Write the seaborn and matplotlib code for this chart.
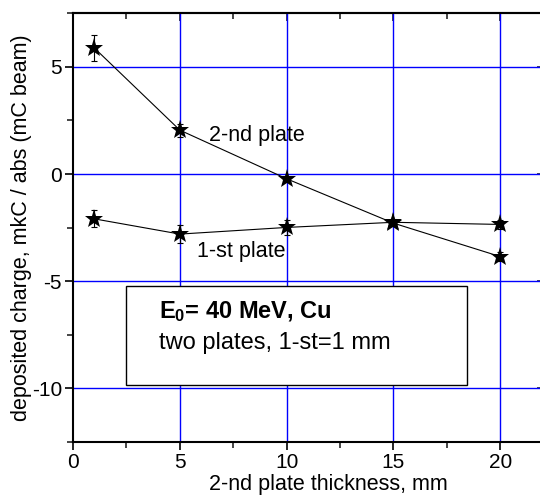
import matplotlib
matplotlib.use("Agg")
import matplotlib.pyplot as plt
import seaborn as sns
import pandas as pd
from matplotlib.ticker import MultipleLocator

thickness = [1, 5, 10, 15, 20]
plate2 = [5.88, 2.05, -0.22, -2.29, -3.85]
plate2_err = [0.6, 0.3, 0.1, 0.15, 0.2]
plate1 = [-2.09, -2.8, -2.49, -2.25, -2.35]
plate1_err = [0.4, 0.42, 0.37, 0.15, 0.2]

xticks = [0, 5, 10, 15, 20]
yticks = [-10, -5, 0, 5]

sns.set_theme(style="white")
plt.rcParams["font.family"] = ["Liberation Sans", "DejaVu Sans"]
plt.rcParams["mathtext.fontset"] = "custom"
plt.rcParams["mathtext.rm"] = "Liberation Sans"
plt.rcParams["mathtext.bf"] = "Liberation Sans:bold"
plt.rcParams["axes.unicode_minus"] = False
plt.rcParams["text.color"] = "black"
plt.rcParams["axes.labelcolor"] = "black"

fig = plt.figure(figsize=(5.4, 4.97), dpi=100)
ax = fig.add_axes([73/540, 55/497, 470/540, (442-13.3)/497])

df = pd.DataFrame({"x": thickness * 2,
                   "y": plate2 + plate1,
                   "s": ["2-nd"] * 5 + ["1-st"] * 5})

for ys, es in [(plate2, plate2_err), (plate1, plate1_err)]:
    ax.errorbar(thickness, ys, yerr=es, fmt="none", ecolor="black",
                elinewidth=0.8, capsize=2.5, capthick=0.8, zorder=3)

sns.lineplot(data=df, x="x", y="y", units="s", estimator=None, ax=ax,
             color="black", linewidth=0.8, marker="*", markersize=14,
             markeredgewidth=0, markerfacecolor="black", zorder=4)

ax.set_xlim(0, 22)
ax.set_ylim(-12.5, 7.5)
ax.set_xticks(xticks)
ax.set_yticks(yticks)
ax.xaxis.set_minor_locator(MultipleLocator(2.5))
ax.yaxis.set_minor_locator(MultipleLocator(2.5))

for v in [5, 10, 15, 20]:
    ax.axvline(v, color="#0000ff", lw=1.0, zorder=1)
for v in yticks:
    ax.axhline(v, color="#0000ff", lw=1.0, zorder=1)

ax.tick_params(axis="both", which="major", direction="out", length=6, width=1.2,
               labelsize=15, colors="black", bottom=True, left=True, pad=2)
ax.tick_params(axis="both", which="minor", direction="out", length=4, width=1.2,
               bottom=True, left=True)

top = ax.secondary_xaxis("top")
top.set_xticks(xticks)
top.xaxis.set_minor_locator(MultipleLocator(2.5))
top.tick_params(which="major", direction="in", length=6, width=1.2, labeltop=False)
top.tick_params(which="minor", direction="in", length=4, width=1.2)
top.spines["top"].set_linewidth(1.5)

right = ax.secondary_yaxis("right")
right.set_yticks(yticks)
right.tick_params(which="major", direction="in", length=4, width=1.2, labelright=False)

for s in ["left", "bottom", "top"]:
    ax.spines[s].set_color("black")
    ax.spines[s].set_linewidth(1.5)
ax.spines["right"].set_visible(False)

ax.set_xlabel("2-nd plate thickness, mm", fontsize=15.5, labelpad=0)
ax.xaxis.set_label_coords(0.543, -0.075)
ax.set_ylabel("deposited charge, mkC / abs (mC beam)", fontsize=15.5, labelpad=0)

ax.text(6.36, 1.79, "2-nd plate", fontsize=15.5, va="center", ha="left", zorder=5)
ax.text(5.81, -3.63, "1-st plate", fontsize=15.5, va="center", ha="left", zorder=5)

box = plt.Rectangle((2.49, -9.86), 18.44 - 2.49, 9.86 - 5.24, facecolor="white",
                    edgecolor="black", lw=1.0, zorder=2)
ax.add_patch(box)
ax.text(4.02, -6.4, r"$\mathbf{E_0}$= 40 MeV, Cu", fontsize=17, fontweight="bold",
        va="center", ha="left", zorder=5)
ax.text(4.02, -7.88, "two plates, 1-st=1 mm", fontsize=17, va="center", ha="left", zorder=5)

fig.savefig("out.png", dpi=100)
